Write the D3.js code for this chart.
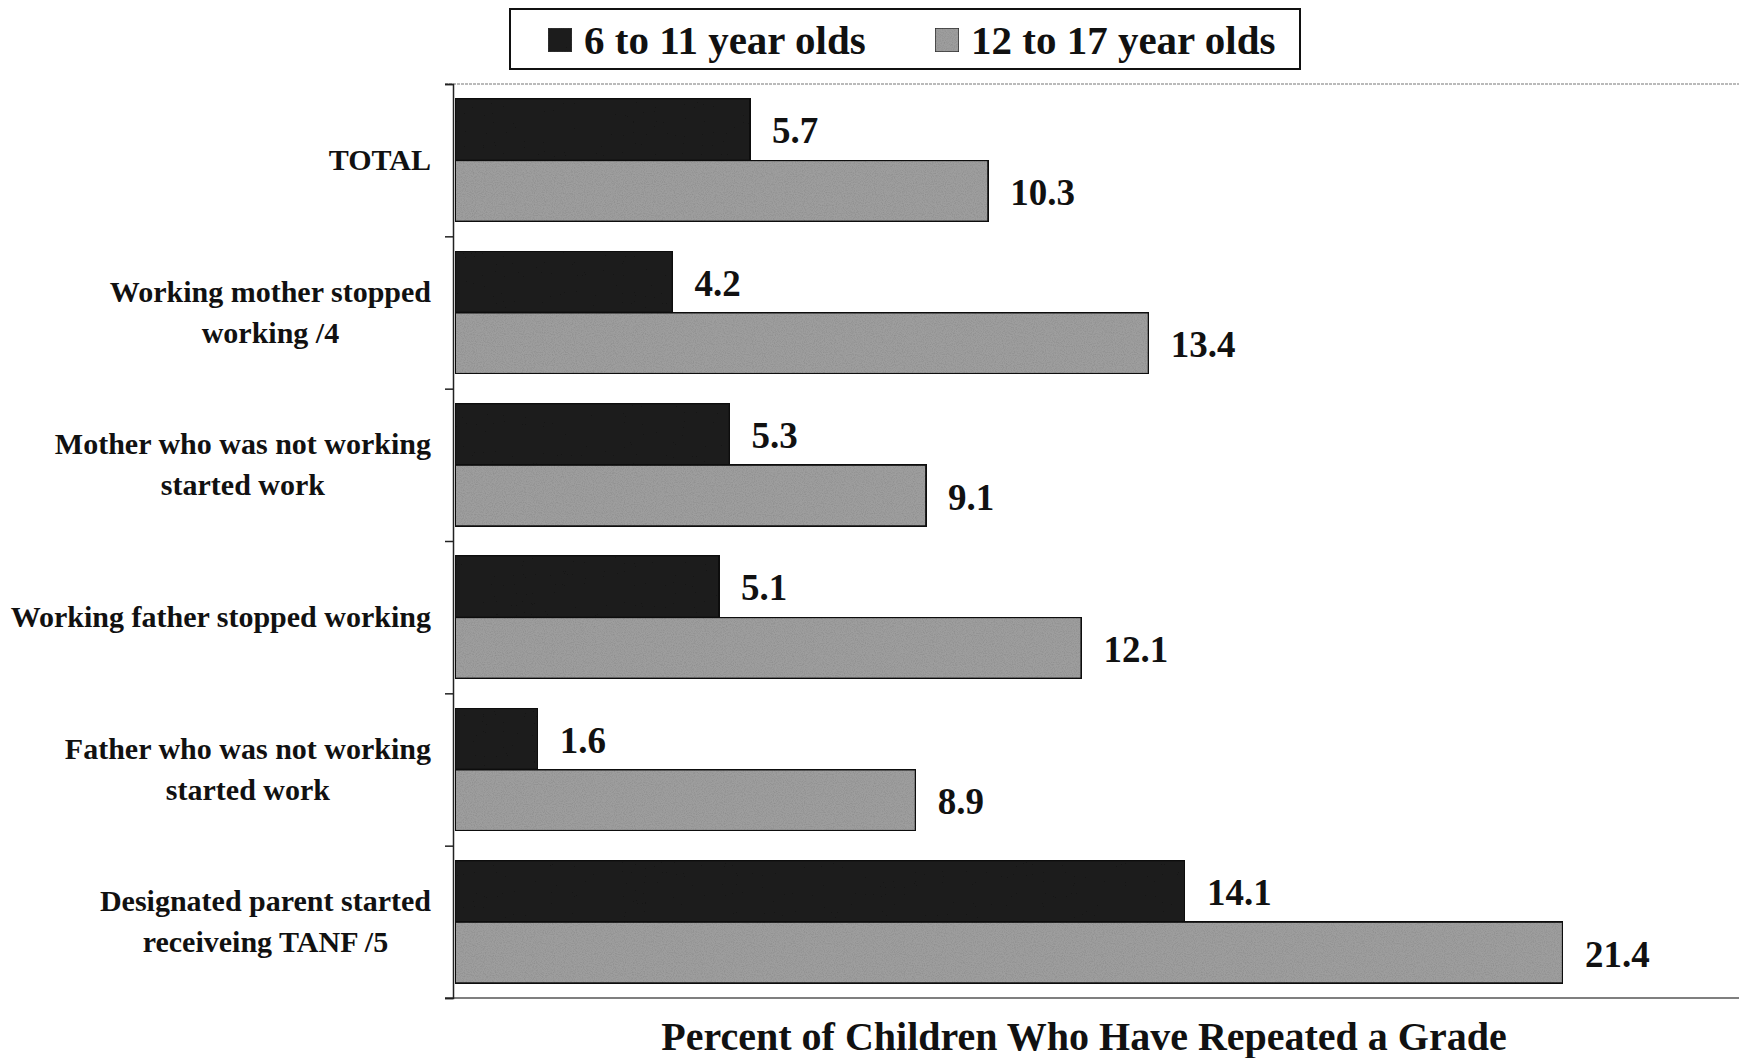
<!DOCTYPE html>
<html>
<head>
<meta charset="utf-8">
<script src="https://cdn.jsdelivr.net/npm/d3@7"></script>
<style>
  html, body { margin: 0; padding: 0; background: #fff; }
  svg { display: block; }
  text { font-family: "Liberation Serif", "Times New Roman", serif; font-weight: bold; fill: #111; }
</style>
</head>
<body>
<svg id="chart" width="1739" height="1058"></svg>
<script>
// Categories (top to bottom) and the two age-group series
const categories = [
  ["TOTAL"],
  ["Working mother stopped", "working /4"],
  ["Mother who was not working", "started work"],
  ["Working father stopped working"],
  ["Father who was not working", "started work"],
  ["Designated parent started", "receiveing TANF /5"]
];
const seriesNames = ["6 to 11 year olds", "12 to 17 year olds"];
const ages6to11 = [5.7, 4.2, 5.3, 5.1, 1.6, 14.1];
const ages12to17 = [10.3, 13.4, 9.1, 12.1, 8.9, 21.4];
const xDomain = [0, 25];
const axisTitle = "Percent of Children Who Have Repeated a Grade";

const colors = ["#1e1e1e", "#9e9e9e"];

const svg = d3.select("#chart");
const W = 1739, H = 1058;
const plot = { left: 453, top: 84, bottom: 998 };

const x = d3.scaleLinear().domain(xDomain).range([plot.left + 2, plot.left + 2 + 25 * 51.77]);
const y = d3.scaleBand().domain(d3.range(categories.length)).range([plot.top, plot.bottom]).paddingInner(0).paddingOuter(0);
const inner = d3.scaleBand().domain([0, 1]).range([0, y.bandwidth()]).paddingOuter(0.24).paddingInner(0);

// Grain texture for the bars
const defs = svg.append("defs");
const filt = defs.append("filter").attr("id", "grain").attr("x", 0).attr("y", 0).attr("width", 1).attr("height", 1);
filt.append("feTurbulence").attr("type", "fractalNoise").attr("baseFrequency", 0.9).attr("numOctaves", 2).attr("seed", 3).attr("result", "noise");
filt.append("feColorMatrix").attr("in", "noise").attr("type", "matrix")
  .attr("values", "0 0 0 0 0  0 0 0 0 0  0 0 0 0 0  0 0 0 -1.6 1.0").attr("result", "dots");
filt.append("feComposite").attr("in", "dots").attr("in2", "SourceGraphic").attr("operator", "in").attr("result", "d2");
filt.append("feComponentTransfer").attr("in", "d2").attr("result", "d3")
  .append("feFuncA").attr("type", "linear").attr("slope", 0.25);
const fm = filt.append("feMerge");
fm.append("feMergeNode").attr("in", "SourceGraphic");
fm.append("feMergeNode").attr("in", "d3");

// Frame lines at top and bottom of the plot
svg.append("line").attr("x1", plot.left - 8).attr("x2", W).attr("y1", plot.top).attr("y2", plot.top)
  .attr("stroke", "#777").attr("stroke-width", 1.2).attr("stroke-dasharray", "3,1");
svg.append("line").attr("x1", plot.left - 8).attr("x2", W).attr("y1", plot.bottom).attr("y2", plot.bottom)
  .attr("stroke", "#555").attr("stroke-width", 1.5);

// Left category axis with tick marks between groups
const yAxisScale = d3.scaleLinear().domain([0, categories.length]).range([plot.top, plot.bottom]);
const yAxis = d3.axisLeft(yAxisScale).ticks(categories.length).tickSize(8).tickFormat("");
const yg = svg.append("g").attr("transform", `translate(${plot.left},0)`).call(yAxis);
yg.selectAll("path, line").attr("stroke", "#222").attr("stroke-width", 1.5);

// Bars
const data = [];
categories.forEach((c, i) => {
  data.push({ cat: i, s: 0, v: ages6to11[i] });
  data.push({ cat: i, s: 1, v: ages12to17[i] });
});

svg.append("g").selectAll("rect").data(data).join("rect")
  .attr("x", x(0))
  .attr("y", d => y(d.cat) + inner(d.s))
  .attr("width", d => x(d.v) - x(0))
  .attr("height", inner.bandwidth())
  .attr("fill", d => colors[d.s])
  .attr("stroke", "#111")
  .attr("stroke-width", 2)
  .attr("filter", "url(#grain)");

// Value labels
svg.append("g").selectAll("text").data(data).join("text")
  .attr("x", d => x(d.v) + 22)
  .attr("y", d => y(d.cat) + inner(d.s) + inner.bandwidth() / 2 + 14)
  .attr("font-size", 37)
  .text(d => d.v.toFixed(1));

// Category labels: each block is right aligned to the axis, its lines centred within the block
const catG = svg.append("g");
const labelRight = 431;
categories.forEach((lines, i) => {
  const cy = y(i) + y.bandwidth() / 2;
  const lh = 41;
  const t = catG.append("text").attr("text-anchor", "middle").attr("font-size", 30);
  const spans = lines.map((ln, j) => t.append("tspan")
    .attr("y", cy + (j - (lines.length - 1) / 2) * lh + 10)
    .text(ln));
  const widest = d3.max(spans, s => s.node().getComputedTextLength());
  spans.forEach(s => s.attr("x", labelRight - widest / 2));
});

// Axis title
svg.append("text").attr("x", 1084).attr("y", 1050).attr("text-anchor", "middle")
  .attr("font-size", 40).text(axisTitle);

// Legend
const lg = svg.append("g");
lg.append("rect").attr("x", 510).attr("y", 9).attr("width", 790).attr("height", 60)
  .attr("fill", "#fff").attr("stroke", "#111").attr("stroke-width", 2);
const legX = [548, 935];
seriesNames.forEach((name, i) => {
  lg.append("rect").attr("x", legX[i]).attr("y", 28).attr("width", 24).attr("height", 24)
    .attr("fill", colors[i]).attr("stroke", "#333").attr("stroke-width", 1.5).attr("filter", "url(#grain)");
  lg.append("text").attr("x", legX[i] + 36).attr("y", 54).attr("font-size", 41).text(name);
});
</script>
</body>
</html>
